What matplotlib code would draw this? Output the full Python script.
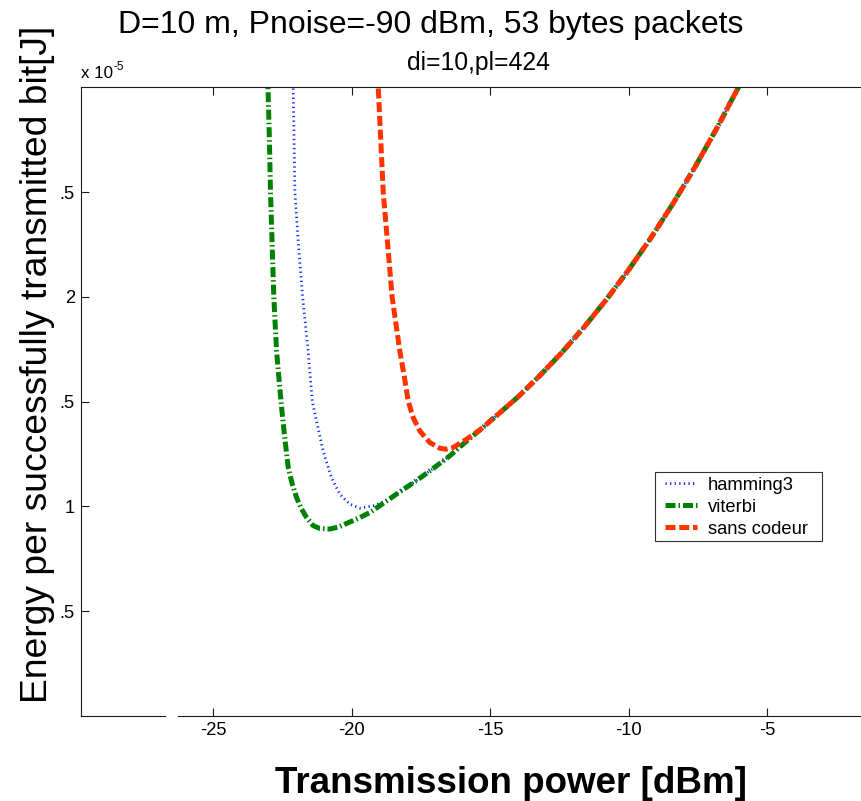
import matplotlib
matplotlib.use("Agg")
import matplotlib.pyplot as plt
from matplotlib.patches import Rectangle

plt.rcParams['font.family'] = ['Liberation Sans', 'DejaVu Sans']

# ---- data: transmission power [dBm] vs energy per good bit [x 1e-5 J] ----
hamming_x = [-22.13, -22.11, -22.05, -21.92, -21.77, -21.57, -21.42, -21.27,
             -21.03, -20.73, -20.43, -20.07, -19.70, -19.22, -18.74, -18.38,
             -17.90, -17.42, -16.94, -16.46, -15.98, -15.37, -14.65, -14.0,
             -13.2, -12.4, -11.6, -10.8, -10.0, -9.2, -8.4, -7.6, -6.8,
             -6.05, -5.8]
hamming_y = [3.06, 3.0, 2.5, 2.25, 2.0, 1.741, 1.5, 1.408,
             1.265, 1.138, 1.059, 1.011, 0.992, 1.003, 1.027, 1.059,
             1.102, 1.146, 1.193, 1.241, 1.297, 1.365, 1.447, 1.522,
             1.625, 1.736, 1.857, 1.988, 2.129, 2.281, 2.445, 2.621, 2.809,
             2.997, 3.06]

viterbi_x = [-23.04, -23.02, -22.97, -22.93, -22.87, -22.81, -22.71, -22.55,
             -22.43, -22.29, -22.15, -21.99, -21.82, -21.63, -21.39, -21.15,
             -20.79, -20.45, -20.18, -19.75, -19.34, -18.86, -18.38, -17.90,
             -17.42, -16.94, -16.46, -15.98, -15.37, -14.65, -14.0, -13.2,
             -12.4, -11.6, -10.8, -10.0, -9.2, -8.4, -7.6, -6.8, -6.05, -5.8]
viterbi_y = [3.06, 3.0, 2.75, 2.5, 2.25, 2.0, 1.74, 1.5,
             1.345, 1.186, 1.11, 1.043, 0.99, 0.948, 0.908, 0.895,
             0.892, 0.903, 0.919, 0.944, 0.971, 1.015, 1.059, 1.102,
             1.146, 1.193, 1.241, 1.297, 1.365, 1.447, 1.522, 1.625,
             1.736, 1.857, 1.988, 2.129, 2.281, 2.445, 2.621, 2.809, 2.997,
             3.06]

uncoded_x = [-19.07, -19.04, -18.95, -18.86, -18.70, -18.54, -18.40, -18.26,
             -18.10, -17.96, -17.78, -17.54, -17.18, -16.82, -16.6, -16.34,
             -15.85, -15.37, -14.65, -14.0, -13.2, -12.4, -11.6, -10.8,
             -10.0, -9.2, -8.4, -7.6, -6.8, -6.05, -5.8]
uncoded_y = [3.06, 3.0, 2.75, 2.5, 2.25, 2.0, 1.87, 1.741,
             1.62, 1.503, 1.424, 1.36, 1.305, 1.278, 1.273, 1.281,
             1.321, 1.365, 1.447, 1.522, 1.625, 1.736, 1.857, 1.988,
             2.129, 2.281, 2.445, 2.621, 2.809, 2.997, 3.06]

series_labels = ['hamming3', 'viterbi', 'sans codeur']

x_ticks = [-25, -20, -15, -10, -5]
x_ticklabels = ['-25', '-20', '-15', '-10', '-5']
y_ticks = [0.5, 1.0, 1.5, 2.0, 2.5]
y_ticklabels = ['.5', '1', '.5', '2', '.5']

# ---- figure layout (pixel helpers) ----
W, H = 861, 801
fig = plt.figure(figsize=(W / 100, H / 100), dpi=100)


def fx(px):
    return px / W


def fy(py):
    return 1 - py / H


ax = fig.add_axes([fx(81), fy(716), 797 / W, (716 - 87.3) / H])
ax.set_xlim(-29.77, -1.0)
ax.set_ylim(0, 3)

l_ham, = ax.plot(hamming_x, hamming_y, color='#0a2cff', lw=2.0,
                 dashes=(0.45, 1.2), label=series_labels[0])
l_vit, = ax.plot(viterbi_x, viterbi_y, color='#008000', lw=3.6,
                 dashes=(2.0, 0.6, 0.3, 0.6), label=series_labels[1])
l_unc, = ax.plot(uncoded_x, uncoded_y, color='#ff3300', lw=3.6,
                 dashes=(2.0, 0.75), label=series_labels[2])

# ---- axes frame ----
spine_col = '#1a1a1a'
for side in ('left', 'top'):
    ax.spines[side].set_color(spine_col)
    ax.spines[side].set_linewidth(0.8)
ax.spines['right'].set_visible(False)
ax.spines['bottom'].set_visible(False)
# bottom axis line, drawn in two pieces
ax.axhline(0, 0, 0.1054, color=spine_col, lw=0.8, clip_on=False, zorder=3)
ax.axhline(0, 0.1217, 1, color=spine_col, lw=0.8, clip_on=False, zorder=3)

ax.set_xticks(x_ticks)
ax.set_xticklabels(x_ticklabels)
ax.set_yticks(y_ticks)
ax.set_yticklabels(y_ticklabels)
ax.tick_params(axis='both', direction='in', length=5.6, width=0.8,
               color=spine_col, labelsize=13.2, pad=4.5)
ax.tick_params(axis='x', top=True)

# ---- legend ----
leg_fs = 13.2
ax.add_patch(Rectangle((fx(655), fy(540.7)), 166.7 / W, 69 / H,
                       transform=fig.transFigure, facecolor='white',
                       edgecolor='#333333', lw=0.8, clip_on=False, zorder=4))
leg = ax.legend(handles=[l_ham, l_vit, l_unc], frameon=False,
                loc='upper left', bbox_to_anchor=(fx(665), fy(476.5)),
                bbox_transform=fig.transFigure, borderpad=0,
                borderaxespad=0, handlelength=1.72, handletextpad=0.63,
                labelspacing=0.28, fontsize=leg_fs)
leg.set_zorder(5)

# ---- titles and axis labels ----
fig.text(fx(430.5), fy(33.3), 'D=10 m, Pnoise=-90 dBm, 53 bytes packets',
         fontsize=23, ha='center', va='baseline')
fig.text(fx(478.5), fy(70), 'di=10,pl=424', fontsize=17.8,
         ha='center', va='baseline')
exp_txt = fig.text(fx(81), fy(78.3), 'x 10', fontsize=12.2,
                   ha='left', va='baseline')
fig.canvas.draw()
bb = exp_txt.get_window_extent()
fig.text((bb.x1 + 1) / W, fy(69.5), '-5', fontsize=8.5,
         ha='left', va='baseline')

fig.text(fx(510.7), fy(793.3), 'Transmission power [dBm]', fontsize=26.5,
         fontweight='bold', ha='center', va='baseline')
fig.text(fx(46.7), fy(364), 'Energy per successfully transmitted bit[J]',
         fontsize=26.8, rotation=90, rotation_mode='anchor',
         ha='center', va='baseline')

fig.savefig('out.png', dpi=100)
